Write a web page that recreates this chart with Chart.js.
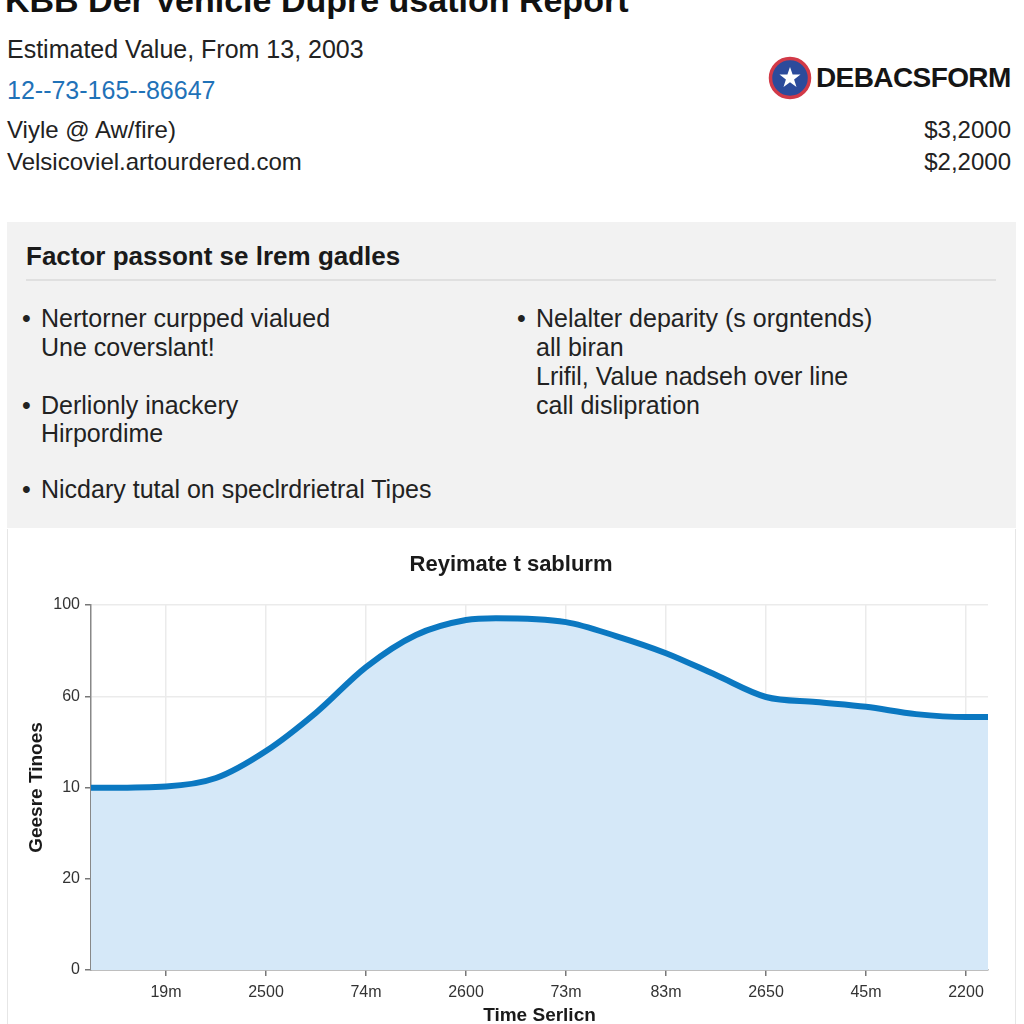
<!DOCTYPE html>
<html>
<head>
<meta charset="utf-8">
<script src="https://cdn.jsdelivr.net/npm/chart.js@4.4.1/dist/chart.umd.min.js"></script>
<style>
  html, body { margin:0; padding:0; background:#fff; }
  body { width:1024px; height:1024px; position:relative; overflow:hidden; font-family:"Liberation Sans", Arial, Helvetica, sans-serif; color:#1a1a1a; }
  .t { position:absolute; white-space:nowrap; line-height:1; }
  .b { font-size:25px; color:#222; }
  #panel { position:absolute; left:7px; top:222px; width:1009px; height:306px; background:#f2f2f2; }
  #sep { position:absolute; left:26px; top:279px; width:970px; height:2px; background:#e0e0e0; }
  #chartBox { position:absolute; left:7px; top:529px; width:1007px; height:500px; border-left:1px solid #e6e6e6; border-right:1px solid #e6e6e6; }
  #cwrap { position:absolute; left:8px; top:530px; width:1007px; height:494px; }
</style>
</head>
<body>
<div class="t" style="left:5px;top:-17.5px;font-size:34px;font-weight:bold;color:#111;">KBB Der Vehicle Dupre usation Report</div>
<div class="t" style="left:7px;top:36.5px;font-size:25px;color:#222;">Estimated Value, From 13, 2003</div>
<div class="t" style="left:7px;top:77.5px;font-size:25px;color:#1f72b8;">12--73-165--86647</div>
<div class="t" style="left:7px;top:118px;font-size:24px;color:#222;">Viyle @ Aw/fire)</div>
<div class="t" style="left:7px;top:150px;font-size:24px;color:#222;">Velsicoviel.artourdered.com</div>
<div class="t" style="right:13px;top:118px;font-size:24px;color:#222;">$3,2000</div>
<div class="t" style="right:13px;top:150px;font-size:24px;color:#222;">$2,2000</div>

<svg style="position:absolute;left:768px;top:56px;" width="44" height="44" viewBox="0 0 44 44">
  <circle cx="22" cy="22" r="19.5" fill="#2c4b9b" stroke="#d23a48" stroke-width="3.5"/>
  <polygon fill="#fff" points="22,11 24.6,18.6 32.5,18.6 26.1,23.4 28.5,31 22,26.3 15.5,31 17.9,23.4 11.5,18.6 19.4,18.6"/>
</svg>
<div class="t" style="left:816px;top:64px;font-size:28px;font-weight:bold;color:#151515;letter-spacing:-0.6px;">DEBACSFORM</div>

<div id="panel"></div>
<div class="t" style="left:26px;top:243px;font-size:26px;font-weight:bold;color:#1a1a1a;">Factor passont se lrem gadles</div>
<div id="sep"></div>

<div class="t b" style="left:22px;top:305.5px;">•</div>
<div class="t b" style="left:41px;top:305.5px;">Nertorner curpped vialued</div>
<div class="t b" style="left:41px;top:334.5px;">Une coverslant!</div>
<div class="t b" style="left:22px;top:392.5px;">•</div>
<div class="t b" style="left:41px;top:392.5px;">Derlionly inackery</div>
<div class="t b" style="left:41px;top:420.5px;">Hirpordime</div>
<div class="t b" style="left:22px;top:476.5px;">•</div>
<div class="t b" style="left:41px;top:476.5px;">Nicdary tutal on speclrdrietral Tipes</div>

<div class="t b" style="left:517px;top:305.5px;">•</div>
<div class="t b" style="left:536px;top:305.5px;">Nelalter deparity (s orgntends)</div>
<div class="t b" style="left:536px;top:334.5px;">all biran</div>
<div class="t b" style="left:536px;top:363.5px;">Lrifil, Value nadseh over line</div>
<div class="t b" style="left:536px;top:392.5px;">call dislipration</div>

<div id="chartBox"></div>
<div id="cwrap"><canvas id="c" width="1007" height="494"></canvas></div>

<script>
// ---- data ----
const chartTitle = "Reyimate t sablurm";
const xAxisTitle = "Time Serlicn";
const yAxisTitle = "Geesre Tinoes";
const xTickLabels = ["19m", "2500", "74m", "2600", "73m", "83m", "2650", "45m", "2200"];
const yTickLabels = ["0", "20", "10", "60", "100"];
const yTickValues = [0, 25, 50, 75, 100];
const timeIndex = [-0.75, 0, 0.5, 1, 1.5, 2, 2.5, 3, 3.3, 4, 4.5, 5, 5.5, 6, 6.5, 7, 7.5, 8, 8.22];
const values = [49.9, 50.3, 52.6, 60.0, 70.5, 83.0, 91.8, 95.9, 96.4, 95.3, 91.5, 86.8, 80.8, 74.8, 73.4, 72.1, 70.1, 69.3, 69.3];

const points = timeIndex.map((x, i) => ({ x: x, y: values[i] }));
const FONT = "'Liberation Sans', Arial, Helvetica, sans-serif";

new Chart(document.getElementById('c'), {
  type: 'line',
  data: {
    datasets: [{
      data: points,
      borderColor: '#0b78c1',
      backgroundColor: '#d5e8f8',
      borderWidth: 6,
      fill: 'origin',
      pointRadius: 0,
      cubicInterpolationMode: 'monotone',
      borderCapStyle: 'round',
      borderJoinStyle: 'round'
    }]
  },
  options: {
    responsive: false,
    animation: false,
    layout: { padding: { left: 26, right: 27, top: 0, bottom: 0 } },
    plugins: {
      legend: { display: false },
      tooltip: { enabled: false },
      title: {
        display: true,
        text: chartTitle,
        color: '#1a1a1a',
        font: { family: FONT, size: 22, weight: 'bold', lineHeight: 1 },
        padding: { top: 24, bottom: 29 }
      }
    },
    scales: {
      x: {
        type: 'linear',
        min: -0.75,
        max: 8.22,
        afterBuildTicks: s => { s.ticks = xTickLabels.map((_, i) => ({ value: i })); },
        afterFit: s => { s.height = 54; },
        ticks: {
          callback: v => xTickLabels[v] ?? '',
          color: '#333',
          font: { family: FONT, size: 16 },
          padding: 7,
          maxRotation: 0,
          autoSkip: false
        },
        grid: { color: '#ebebeb', lineWidth: 1.5, tickColor: '#777', tickLength: 6 },
        border: { color: '#888', width: 1.5 },
        title: {
          display: true,
          text: xAxisTitle,
          color: '#1a1a1a',
          font: { family: FONT, size: 19, weight: 'bold', lineHeight: 1 },
          padding: { top: 0, bottom: -1 }
        }
      },
      y: {
        min: 0,
        max: 100,
        afterBuildTicks: s => { s.ticks = yTickValues.map(v => ({ value: v })); },
        afterFit: s => { s.width = 57; },
        ticks: {
          callback: v => yTickLabels[yTickValues.indexOf(v)] ?? '',
          color: '#333',
          font: { family: FONT, size: 16 },
          padding: 5
        },
        grid: { color: '#ebebeb', lineWidth: 1.5, tickColor: '#777', tickLength: 6 },
        border: { color: '#888', width: 1.5 },
        title: {
          display: true,
          text: yAxisTitle,
          color: '#1a1a1a',
          font: { family: FONT, size: 19, weight: 'bold', lineHeight: 1 },
          padding: { top: -6.5, bottom: 0 }
        }
      }
    }
  }
});
</script>
</body>
</html>
